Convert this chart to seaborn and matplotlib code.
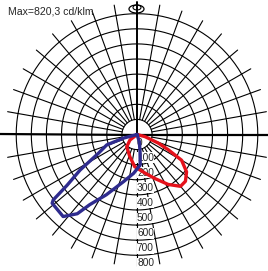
import numpy as np
import pandas as pd
import seaborn as sns
import matplotlib.pyplot as plt
from matplotlib.patches import Ellipse

# -----------------------------------------------------------
# Luminous intensity data (cd/klm), angle from nadir in degrees
# positive = right half, negative = left half
# -----------------------------------------------------------
red_gamma = [80, 75, 68, 64, 60, 53, 46, 40, 32, 22, 12, -4, -18, -40, -52, -60]
red_cd = [0, 55, 153, 231, 341, 411, 446, 448, 390, 314, 262, 214, 154, 106, 59, 0]

blue_gamma = [-80, -75, -71, -64, -58, -54, -52, -51, -42, -37, -34, -27, -16, -5, 6, 10, 18, 25]
blue_cd = [0, 94, 212, 285, 445, 573, 704, 723, 731, 657, 561, 448, 325, 258, 203, 116, 50, 0]

ring_values = [100, 200, 300, 400, 500, 600, 700, 800]
label_values = [0, 100, 200, 300, 400, 500, 600, 700, 800]
title = "Max=820,3 cd/klm"

red = pd.DataFrame({"theta": np.radians(red_gamma), "cd": red_cd})
blue = pd.DataFrame({"theta": np.radians(blue_gamma), "cd": blue_cd})

sns.set_style("white")
plt.rcParams["font.family"] = ["Liberation Sans", "DejaVu Sans"]

W, H = 268, 271
fig = plt.figure(figsize=(W / 100, H / 100), dpi=100)
rmax = 900
rpx = rmax * 0.151
cx, cy = 137, 136.5  # centre, pixels from bottom-left
ax = fig.add_axes([(cx - rpx) / W, (cy - rpx) / H, 2 * rpx / W, 2 * rpx / H],
                  projection="polar")
ax.set_theta_zero_location("S")
ax.set_theta_direction(1)
ax.set_ylim(0, rmax)
ax.axis("off")

# -----------------------------------------------------------
# grid: rings + radial lines every 10 degrees
# -----------------------------------------------------------
t = np.linspace(0, 2 * np.pi, 361)
for v in ring_values:
    ax.plot(t, np.full_like(t, v), color="black", lw=0.8, zorder=1, clip_on=False)
for a in range(0, 360, 10):
    th = np.radians(a)
    if a in (90, 270):
        ax.plot([th, th], [0, 915], color="black", lw=1.6, zorder=1, clip_on=False)
    elif a == 180:
        ax.plot([th, th], [0, 870], color="black", lw=1.4, zorder=1, clip_on=False)
    else:
        ax.plot([th, th], [100, 870], color="black", lw=0.8, zorder=1, clip_on=False)

# intensity scale labels
for v in label_values:
    ax.text(0, v + 53, str(v), ha="left", va="center", fontsize=7.3,
            bbox=dict(facecolor="white", edgecolor="none", pad=0.3), zorder=2)

# -----------------------------------------------------------
# curves
# -----------------------------------------------------------
sns.lineplot(data=red, x="theta", y="cd", sort=False, estimator=None,
             color="#e5121b", lw=2.4, ax=ax, zorder=3)
sns.lineplot(data=blue, x="theta", y="cd", sort=False, estimator=None,
             color="#2e2b8e", lw=2.4, ax=ax, zorder=4)
ax.set_ylim(0, rmax)
ax.axis("off")

# lamp symbol at top
fig.add_artist(Ellipse((136.5 / W, 1 - 9 / H), 15 / W, 8 / H, transform=fig.transFigure,
                       facecolor="white", edgecolor="black", lw=0.9))
fig.add_artist(Ellipse((137 / W, 1 - 7.5 / H), 8 / W, 5 / H, transform=fig.transFigure,
                       facecolor="none", edgecolor="black", lw=0.8))
fig.add_artist(plt.Line2D([137 / W, 137 / W], [1 - 2 / H, 1 - 14 / H],
                          transform=fig.transFigure, color="black", lw=1.4))

fig.text(8 / W, 1 - 12 / H, title, ha="left", va="center", fontsize=7.6)

fig.savefig("out.png", dpi=100)
